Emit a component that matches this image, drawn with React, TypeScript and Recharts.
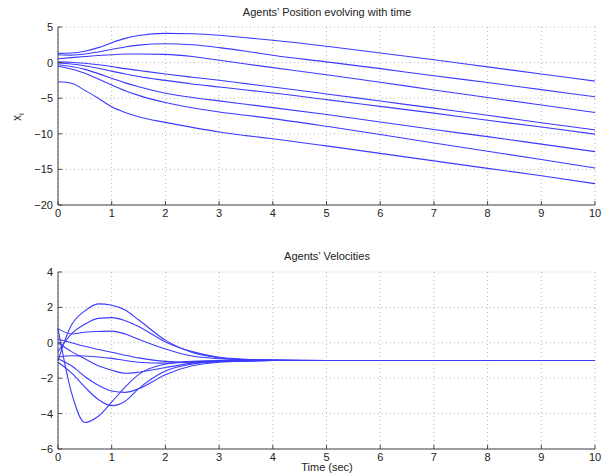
import { LineChart, Line, XAxis, YAxis, CartesianGrid } from "recharts";

// sample times (sec)
const TIME = [0, 0.25, 0.5, 0.75, 1, 1.25, 1.5, 2, 2.5, 3, 3.5, 4, 5, 6, 7, 8, 9, 10];

// agents' positions x_i
const POS_1 = [1.3, 1.35, 1.6, 2.1, 2.8, 3.4, 3.8, 4.1, 4.05, 3.84, 3.5, 3.14, 2.3, 1.35, 0.4, -0.6, -1.6, -2.6];
const POS_2 = [1.1, 1.05, 1.2, 1.5, 1.85, 2.2, 2.45, 2.65, 2.5, 2.1, 1.6, 1.03, 0.1, -0.85, -1.85, -2.8, -3.8, -4.8];
const POS_3 = [0.55, 0.7, 0.85, 1.0, 1.1, 1.2, 1.2, 1.15, 0.85, 0.33, -0.2, -0.7, -1.7, -2.75, -3.85, -4.9, -5.95, -7.0];
const POS_4 = [0.1, 0.05, -0.1, -0.3, -0.55, -0.85, -1.1, -1.6, -2.05, -2.48, -2.95, -3.42, -4.4, -5.4, -6.4, -7.4, -8.45, -9.45];
const POS_5 = [-0.05, -0.2, -0.45, -0.8, -1.2, -1.6, -1.95, -2.5, -3.0, -3.42, -3.85, -4.26, -5.2, -6.15, -7.1, -8.1, -9.05, -10.05];
const POS_6 = [-0.3, -0.55, -0.95, -1.55, -2.2, -2.85, -3.4, -4.3, -4.9, -5.38, -5.85, -6.32, -7.3, -8.35, -9.4, -10.4, -11.45, -12.5];
const POS_7 = [-0.5, -0.9, -1.5, -2.3, -3.15, -3.95, -4.6, -5.6, -6.35, -6.93, -7.4, -7.87, -8.95, -10.1, -11.3, -12.45, -13.6, -14.8];
const POS_8 = [-2.7, -2.9, -3.9, -5.0, -6.2, -7.0, -7.6, -8.4, -9.1, -9.74, -10.25, -10.7, -11.7, -12.75, -13.8, -14.85, -15.9, -17.0];

// agents' velocities
const VEL_1 = [-1.0, 1.0, 1.8, 2.2, 2.12, 1.85, 1.3, 0.15, -0.55, -0.85, -0.95, -0.98, -1, -1, -1, -1, -1, -1];
const VEL_2 = [-0.5, 0.5, 1.05, 1.38, 1.42, 1.25, 0.92, 0.05, -0.5, -0.82, -0.93, -0.97, -1, -1, -1, -1, -1, -1];
const VEL_3 = [0.8, 0.5, 0.6, 0.64, 0.66, 0.5, 0.2, -0.35, -0.75, -0.9, -0.96, -0.98, -1, -1, -1, -1, -1, -1];
const VEL_4 = [0.2, 0.0, -0.2, -0.38, -0.53, -0.7, -0.85, -1.05, -1.1, -1.05, -1.02, -1.0, -1, -1, -1, -1, -1, -1];
const VEL_5 = [-0.8, -0.73, -0.75, -0.8, -0.88, -1.0, -1.1, -1.15, -1.08, -1.03, -1.01, -1.0, -1, -1, -1, -1, -1, -1];
const VEL_6 = [0.0, -0.5, -0.9, -1.3, -1.55, -1.72, -1.66, -1.4, -1.15, -1.05, -1.02, -1.0, -1, -1, -1, -1, -1, -1];
const VEL_7 = [-0.9, -1.3, -1.9, -2.4, -2.72, -2.8, -2.6, -1.8, -1.3, -1.1, -1.03, -1.0, -1, -1, -1, -1, -1, -1];
const VEL_8 = [-1.1, -1.7, -2.5, -3.2, -3.55, -3.3, -2.6, -1.6, -1.2, -1.05, -1.02, -1.0, -1, -1, -1, -1, -1, -1];
const VEL_9 = [0.8, -2.8, -4.5, -4.15, -3.35, -2.5, -1.8, -1.2, -1.05, -1.0, -1.0, -1.0, -1, -1, -1, -1, -1, -1];

const X_TICKS = [0, 1, 2, 3, 4, 5, 6, 7, 8, 9, 10];
const POS_TICKS = [-20, -15, -10, -5, 0, 5];
const VEL_TICKS = [-6, -4, -2, 0, 2, 4];

const POS_SERIES = [POS_1, POS_2, POS_3, POS_4, POS_5, POS_6, POS_7, POS_8];
const VEL_SERIES = [VEL_1, VEL_2, VEL_3, VEL_4, VEL_5, VEL_6, VEL_7, VEL_8, VEL_9];

const toRows = (series: number[][]) =>
  TIME.map((t, i) => {
    const row: Record<string, number> = { t };
    series.forEach((s, k) => (row[`a${k}`] = s[i]));
    return row;
  });

const posData = toRows(POS_SERIES);
const velData = toRows(VEL_SERIES);

const FONT = "'Liberation Sans', Arial, sans-serif";
const AXIS = "#444";
const LINE = "#3b3bff";
const tick = { fontSize: 11, fill: "#222", fontFamily: FONT };
const fmt = (v: number) => String(v).replace("-", "\u2212");

function Panel({
  data,
  count,
  yDomain,
  yTicks,
  height,
  margin,
}: {
  data: Record<string, number>[];
  count: number;
  yDomain: [number, number];
  yTicks: number[];
  height: number;
  margin: { top: number; right: number; bottom: number; left: number };
}) {
  return (
    <LineChart width={608} height={height} data={data} margin={margin}>
      <CartesianGrid stroke="#b5b5b5" strokeDasharray="1 3" />
      <XAxis
        dataKey="t"
        type="number"
        domain={[0, 10]}
        ticks={X_TICKS}
        height={20}
        tick={tick}
        tickSize={-4}
        tickMargin={8}
        stroke={AXIS}
        interval={0}
      />
      <YAxis
        type="number"
        domain={yDomain}
        ticks={yTicks}
        width={30}
        tick={tick}
        tickSize={-4}
        tickMargin={9}
        stroke={AXIS}
        tickFormatter={fmt}
        interval={0}
      />
      {Array.from({ length: count }, (_, k) => (
        <Line
          key={k}
          type="monotone"
          dataKey={`a${k}`}
          stroke={LINE}
          strokeWidth={1.1}
          dot={false}
          isAnimationActive={false}
        />
      ))}
    </LineChart>
  );
}

export default function App() {
  const text: React.CSSProperties = {
    position: "absolute",
    fontFamily: FONT,
    fontSize: 11,
    color: "#222",
    whiteSpace: "nowrap",
  };
  return (
    <div style={{ position: "absolute", left: 0, top: 0, width: 608, height: 475, background: "#fff" }}>
      <div style={{ position: "absolute", left: 0, top: 0 }}>
        <Panel
          data={posData}
          count={POS_SERIES.length}
          yDomain={[-20, 5]}
          yTicks={POS_TICKS}
          height={240}
          margin={{ top: 27, right: 13, bottom: 15, left: 28 }}
        />
      </div>
      <div style={{ position: "absolute", left: 0, top: 240 }}>
        <Panel
          data={velData}
          count={VEL_SERIES.length}
          yDomain={[-6, 4]}
          yTicks={VEL_TICKS}
          height={235}
          margin={{ top: 32, right: 13, bottom: 6, left: 28 }}
        />
      </div>
      <div style={{ ...text, left: 327, top: 6, transform: "translateX(-50%)" }}>
        Agents’ Position evolving with time
      </div>
      <div style={{ ...text, left: 327, top: 250, transform: "translateX(-50%)" }}>
        Agents’ Velocities
      </div>
      <div style={{ ...text, left: 327, top: 461, transform: "translateX(-50%)" }}>
        Time (sec)
      </div>
      <div
        style={{
          ...text,
          left: 18,
          top: 117,
          transform: "translate(-50%, -50%) rotate(-90deg)",
          fontSize: 12,
        }}
      >
        x<sub style={{ fontSize: 8 }}>i</sub>
      </div>
    </div>
  );
}
